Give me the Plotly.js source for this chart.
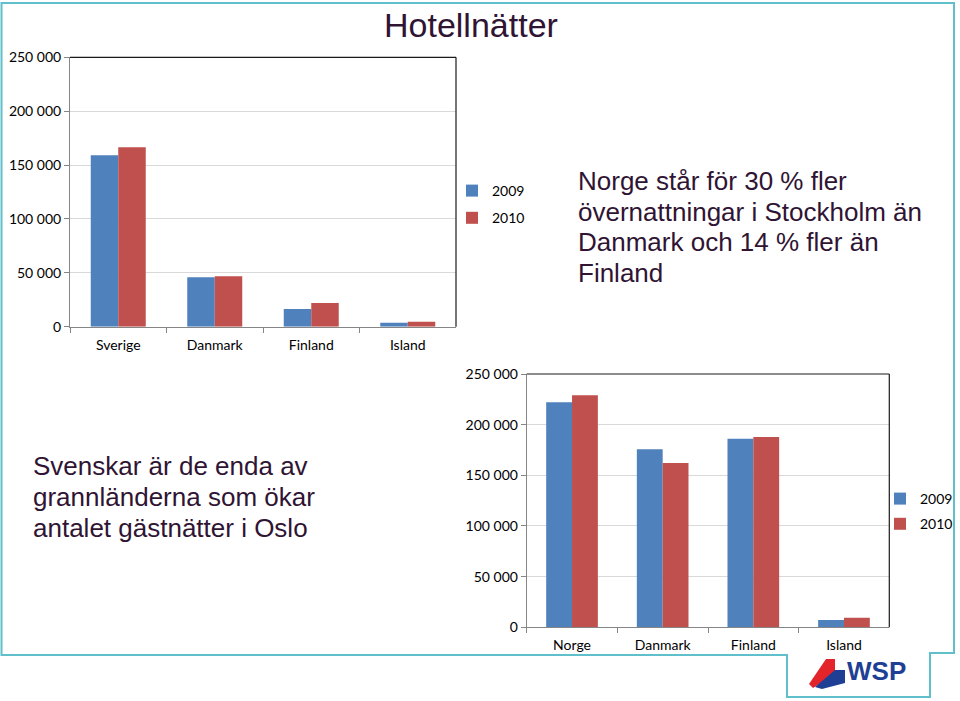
<!DOCTYPE html>
<html>
<head>
<meta charset="utf-8">
<script src="https://cdn.plot.ly/plotly-3.0.1.min.js"></script>
<style>
  html, body { margin: 0; padding: 0; background: #ffffff; }
  #chart { width: 960px; height: 701px; }
</style>
</head>
<body>
<div id="chart"></div>
<script>
// ---- Data ----
const seriesNames = ["2009", "2010"];
const stockholmCategories = ["Sverige", "Danmark", "Finland", "Island"];
const stockholm2009 = [159000, 45800, 16400, 3700];
const stockholm2010 = [166500, 46800, 22000, 4600];
const osloCategories = ["Norge", "Danmark", "Finland", "Island"];
const oslo2009 = [222100, 175700, 186200, 7200];
const oslo2010 = [229000, 162200, 187800, 9500];
const yTickValues = [0, 50000, 100000, 150000, 200000, 250000];

const mainTitle = "Hotellnätter";
const noteStockholmLines = ["Norge står för 30 % fler", "övernattningar i Stockholm än", "Danmark och 14 % fler än", "Finland"];
const noteOsloLines = ["Svenskar är de enda av", "grannländerna som ökar", "antalet gästnätter i Oslo"];

// ---- Styles ----
const blue = "#4f81bd";
const red = "#c0504d";
const axisGray = "#868686";
const gridGray = "#d9d9d9";
const textPurple = "#2f1433";
const frameTeal = "#5fbfca";
const tickFont = { family: "Lato, 'Open Sans', sans-serif", size: 14, color: "#000000" };
const noteFont = { family: "'Liberation Sans', Arial, sans-serif", size: 26, color: textPurple };

const traces = [
  { type: "bar", name: seriesNames[0], x: stockholmCategories, y: stockholm2009,
    marker: { color: blue }, xaxis: "x", yaxis: "y", legend: "legend", legendgroup: "a" },
  { type: "bar", name: seriesNames[1], x: stockholmCategories, y: stockholm2010,
    marker: { color: red }, xaxis: "x", yaxis: "y", legend: "legend", legendgroup: "b" },
  { type: "bar", name: seriesNames[0], x: osloCategories, y: oslo2009,
    marker: { color: blue }, xaxis: "x2", yaxis: "y2", legend: "legend2", legendgroup: "c" },
  { type: "bar", name: seriesNames[1], x: osloCategories, y: oslo2010,
    marker: { color: red }, xaxis: "x2", yaxis: "y2", legend: "legend2", legendgroup: "d" }
];

function xAxis(domain, anchor) {
  return {
    domain: domain, anchor: anchor, type: "category",
    showline: true, linecolor: axisGray, linewidth: 1,
    ticks: "outside", tickson: "boundaries", ticklen: 5, tickcolor: axisGray,
    ticklabelstandoff: 5,
    showgrid: false, tickfont: tickFont, fixedrange: true
  };
}
function yAxis(domain, anchor) {
  return {
    domain: domain, anchor: anchor, range: [0, 250000],
    tickvals: yTickValues, tickformat: ",d",
    showline: true, linecolor: axisGray, linewidth: 1,
    ticks: "outside", ticklen: 5, tickcolor: axisGray,
    showgrid: true, gridcolor: gridGray, gridwidth: 1, zeroline: false,
    tickfont: tickFont, fixedrange: true
  };
}

const W = 960, H = 701;
const px = v => v / W;
const py = v => 1 - v / H;

const framePath =
  "M " + px(1.5) + "," + py(3) +
  " L " + px(954) + "," + py(3) +
  " L " + px(954) + "," + py(653) +
  " L " + px(930) + "," + py(653) +
  " L " + px(930) + "," + py(697) +
  " L " + px(787) + "," + py(697) +
  " L " + px(787) + "," + py(655) +
  " L " + px(1.5) + "," + py(655) + " Z";

const shapes = [
  { type: "path", xref: "paper", yref: "paper", path: framePath,
    line: { color: frameTeal, width: 2 }, layer: "below" },
  { type: "line", xref: "x domain", yref: "y domain", x0: 0, x1: 1, y0: 1, y1: 1, line: { color: "#1a1a1a", width: 1.2 } },
  { type: "line", xref: "x domain", yref: "y domain", x0: 1, x1: 1, y0: 0, y1: 1, line: { color: "#1a1a1a", width: 1.2 } },
  { type: "line", xref: "x2 domain", yref: "y2 domain", x0: 0, x1: 1, y0: 1, y1: 1, line: { color: "#1a1a1a", width: 1.2 } },
  { type: "line", xref: "x2 domain", yref: "y2 domain", x0: 1, x1: 1, y0: 0, y1: 1, line: { color: "#1a1a1a", width: 1.2 } },
  // WSP logo mark
  { type: "path", xref: "paper", yref: "paper",
    path: "M " + px(826) + "," + py(659) + " L " + px(835) + "," + py(659) + " L " + px(835) + "," + py(674) +
          " L " + px(813) + "," + py(688) + " L " + px(809) + "," + py(684) + " Z",
    fillcolor: "#e3242b", line: { width: 0 } },
  { type: "path", xref: "paper", yref: "paper",
    path: "M " + px(835) + "," + py(670) + " L " + px(845) + "," + py(670) + " L " + px(845) + "," + py(683) +
          " L " + px(822) + "," + py(689) + " L " + px(815) + "," + py(687) + " Z",
    fillcolor: "#1f3f95", line: { width: 0 } }
];

const annotations = [
  { text: mainTitle, xref: "paper", yref: "paper", x: px(471), y: py(25), xanchor: "center", yanchor: "middle",
    showarrow: false, font: { family: "'Liberation Sans', Arial, sans-serif", size: 34, color: textPurple } },
  { text: "<b>WSP</b>", xref: "paper", yref: "paper", x: px(845), y: py(671), xanchor: "left", yanchor: "middle",
    showarrow: false, font: { family: "'Liberation Sans', Arial, sans-serif", size: 26, color: "#1f3f95" } }
];
const stockholmLineY = [181, 211.5, 242, 272.5];
noteStockholmLines.forEach((t, i) => annotations.push({
  text: t, xref: "paper", yref: "paper", x: px(576), y: py(stockholmLineY[i]),
  xanchor: "left", yanchor: "middle", align: "left", showarrow: false, font: noteFont
}));
const osloLineY = [466, 497, 528];
noteOsloLines.forEach((t, i) => annotations.push({
  text: t, xref: "paper", yref: "paper", x: px(31), y: py(osloLineY[i]),
  xanchor: "left", yanchor: "middle", align: "left", showarrow: false, font: noteFont
}));

const layout = {
  width: W, height: H,
  margin: { l: 0, r: 0, t: 0, b: 0, pad: 0 },
  paper_bgcolor: "#ffffff", plot_bgcolor: "#ffffff",
  separators: ". ",
  barmode: "group", bargap: 0.43, bargroupgap: 0,
  xaxis: xAxis([px(70), px(456)], "y"),
  yaxis: yAxis([py(326.7), py(57.3)], "x"),
  xaxis2: xAxis([px(526.7), px(889.3)], "y2"),
  yaxis2: yAxis([py(627.3), py(374)], "x2"),
  legend: { x: px(452), y: py(175), xanchor: "left", yanchor: "top", bgcolor: "rgba(0,0,0,0)",
    font: tickFont, tracegroupgap: 6, itemwidth: 30 },
  legend2: { x: px(880), y: py(483), xanchor: "left", yanchor: "top", bgcolor: "rgba(0,0,0,0)",
    font: tickFont, tracegroupgap: 4, itemwidth: 30 },
  shapes: shapes,
  annotations: annotations
};

Plotly.newPlot("chart", traces, layout, { displayModeBar: false, staticPlot: true });
</script>
</body>
</html>
